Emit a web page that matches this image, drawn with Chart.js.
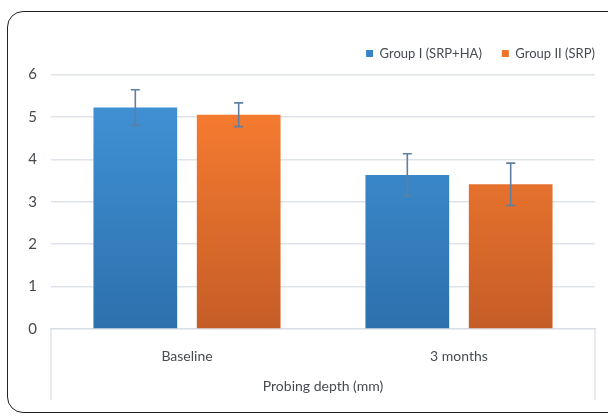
<!DOCTYPE html>
<html>
<head>
<meta charset="utf-8">
<script src="https://cdn.jsdelivr.net/npm/chart.js@4/dist/chart.umd.min.js"></script>
<style>
  html, body { margin: 0; padding: 0; background: #fff; }
  #wrap { position: relative; width: 608px; height: 417px; overflow: hidden; }
  #frame { position: absolute; left: 7px; top: 11px; width: 640px; height: 402px;
           border: 1.5px solid #222; border-radius: 16px; box-sizing: border-box; }
  canvas { position: absolute; left: 0; top: 0; }
</style>
</head>
<body>
<div id="wrap">
  <div id="frame"></div>
  <canvas id="c" width="608" height="417"></canvas>
</div>
<script>
const categories = ['Baseline', '3 months'];
const seriesNames = ['Group I (SRP+HA)', 'Group II (SRP)'];
const group1 = [5.22, 3.63];
const group1Err = [0.42, 0.50];
const group2 = [5.05, 3.41];
const group2Err = [0.28, 0.50];
const yMin = 0, yMax = 6, yStep = 1;
const axisTitle = 'Probing depth (mm)';

const FONT = "Lato, 'Open Sans', sans-serif";
const TEXT = '#464b52';

function grad(top, bottom) {
  return (ctx) => {
    const chart = ctx.chart;
    const a = chart.chartArea;
    if (!a) return top;
    const g = chart.ctx.createLinearGradient(0, a.bottom, 0, a.top);
    g.addColorStop(0, bottom);
    g.addColorStop(0.85, top);
    g.addColorStop(1, top);
    return g;
  };
}

const errorBars = {
  id: 'errorBars',
  afterDatasetsDraw(chart) {
    const { ctx } = chart;
    const y = chart.scales.y;
    chart.data.datasets.forEach((ds, di) => {
      const meta = chart.getDatasetMeta(di);
      meta.data.forEach((bar, i) => {
        const v = ds.data[i], e = ds.errors[i];
        const yt = y.getPixelForValue(v + e);
        const yb = y.getPixelForValue(v - e);
        ctx.save();
        ctx.strokeStyle = '#5d7fa3';
        ctx.lineWidth = 1.6;
        ctx.beginPath();
        ctx.moveTo(bar.x, yt); ctx.lineTo(bar.x, yb);
        ctx.moveTo(bar.x - 4.5, yt); ctx.lineTo(bar.x + 4.5, yt);
        ctx.moveTo(bar.x - 4.5, yb); ctx.lineTo(bar.x + 4.5, yb);
        ctx.stroke();
        ctx.restore();
      });
    });
  }
};

const axisBox = {
  id: 'axisBox',
  beforeDatasetsDraw(chart) {
    const { ctx, chartArea: a } = chart;
    ctx.save();
    ctx.strokeStyle = '#d9dee5';
    ctx.lineWidth = 1.2;
    ctx.beginPath();
    ctx.moveTo(a.left, a.bottom); ctx.lineTo(a.left, a.bottom + 71);
    ctx.moveTo(a.right, a.bottom); ctx.lineTo(a.right, a.bottom + 71);
    ctx.stroke();
    ctx.restore();
  }
};

const legendTweak = {
  id: 'legendTweak',
  afterInit(chart) {
    const lg = chart.legend;
    if (!lg) return;
    const orig = lg.fit;
    lg.fit = function () { orig.call(this); this.height += 4.5; };
  },
  beforeDraw(chart) {
    if (chart.legend) chart.legend.right = chart.width + 7;
  }
};

new Chart(document.getElementById('c'), {
  type: 'bar',
  data: {
    labels: categories,
    datasets: [
      { label: seriesNames[0], data: group1, errors: group1Err,
        backgroundColor: grad('#3f90d3', '#2d70ad'), borderWidth: 0 },
      { label: seriesNames[1], data: group2, errors: group2Err,
        backgroundColor: grad('#f57b30', '#c55d27'), borderWidth: 0 }
    ]
  },
  options: {
    responsive: false,
    animation: false,
    events: [],
    layout: { padding: { top: 27, right: 13, bottom: 10, left: 0 } },
    datasets: { bar: { categoryPercentage: 0.76, barPercentage: 0.81 } },
    plugins: {
      legend: {
        position: 'top', align: 'end',
        labels: { boxWidth: 7, boxHeight: 7, padding: 20, color: TEXT,
                  font: { family: FONT, size: 13 },
                  generateLabels(chart) {
                    const cols = ['#3784c6', '#f07428'];
                    return chart.data.datasets.map((d, i) => ({
                      text: d.label, fillStyle: cols[i], strokeStyle: cols[i],
                      lineWidth: 0, datasetIndex: i, fontColor: TEXT
                    }));
                  } }
      },
      tooltip: { enabled: false }
    },
    scales: {
      x: {
        grid: { display: false, drawTicks: false },
        border: { display: true, color: '#d9dee5', width: 1.2 },
        ticks: { padding: 19, color: TEXT, font: { family: FONT, size: 14 } },
        title: { display: true, text: axisTitle, color: TEXT,
                 font: { family: FONT, size: 14 }, padding: { top: 10, bottom: 12 } },
        afterFit(s) { s.height = 78; }
      },
      y: {
        min: yMin, max: yMax,
        grid: { color: '#dfe4ea', lineWidth: 1.6, drawTicks: false },
        border: { display: false },
        ticks: { stepSize: yStep, padding: 14, color: TEXT,
                 font: { family: FONT, size: 15 } },
        afterFit(s) { s.width = 51; }
      }
    }
  },
  plugins: [errorBars, axisBox, legendTweak]
});
</script>
</body>
</html>
